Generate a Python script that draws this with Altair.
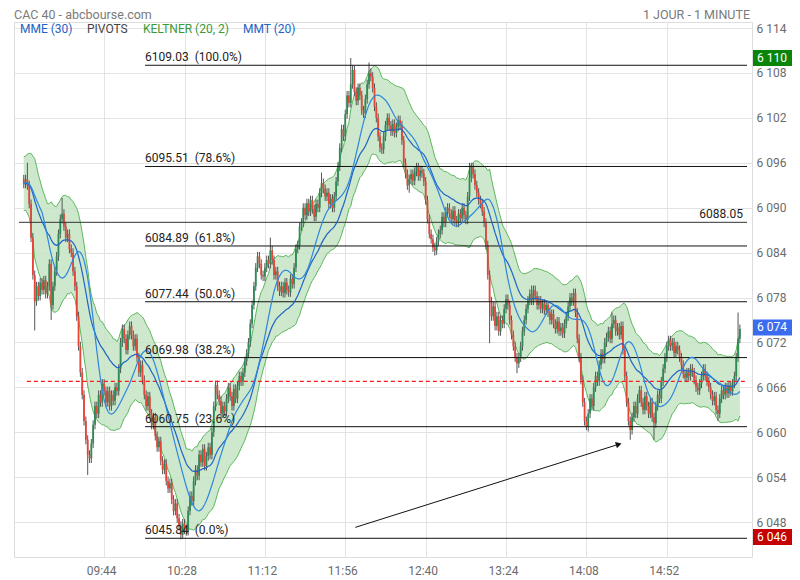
import math
import altair as alt
import pandas as pd
import numpy as np

# ---------------- data ----------------
START_OPEN = 6093.8
CLOSES = [
    # 09:00 - 10:05
    6093.2, 6093.8, 6093.0, 6090.5, 6086.0, 6081.0, 6077.5, 6079.5, 6078.2, 6080.0,
    6079.0, 6080.3, 6078.5, 6079.5, 6082.5, 6077.0, 6079.5, 6081.5, 6083.5, 6086.5,
    6088.5, 6089.2, 6087.5, 6086.0, 6086.5, 6084.5, 6084.0, 6081.5, 6079.5, 6075.5,
    6071.5, 6068.0, 6065.0, 6061.5, 6059.0, 6057.0, 6056.5, 6058.5, 6061.0, 6063.5,
    6062.5, 6065.0, 6064.0, 6066.5, 6065.5, 6064.0, 6065.5, 6063.5, 6065.0, 6064.2,
    6066.0, 6065.5, 6068.5, 6072.0, 6073.8, 6072.5, 6071.0, 6073.0, 6074.2, 6073.0,
    6071.5, 6072.5, 6070.0, 6068.0, 6069.0, 6067.0,
    # 10:06 - 10:50
    6065.0, 6063.5, 6064.8, 6062.5, 6061.0, 6062.0, 6059.5, 6058.0, 6058.8, 6056.2,
    6055.0, 6055.8, 6053.5, 6052.5, 6053.2, 6051.0, 6049.5, 6050.5, 6048.5, 6047.5,
    6046.3, 6047.8, 6047.0, 6046.8, 6049.5, 6051.5, 6050.8, 6053.5, 6055.0, 6054.2,
    6057.0, 6056.0, 6057.8, 6055.5, 6056.8, 6058.0, 6057.0, 6060.0, 6063.5, 6066.3,
    6065.0, 6064.2, 6062.5, 6063.5, 6062.8,
    # 10:51 - 11:50
    6064.5, 6066.0, 6064.8, 6063.5, 6065.8, 6064.5, 6066.2, 6067.5, 6066.8, 6068.0,
    6069.5, 6070.5, 6072.0, 6074.5, 6077.0, 6079.5, 6082.0, 6083.5, 6082.5, 6081.0,
    6080.8, 6082.0, 6083.0, 6082.5, 6084.3, 6083.0, 6081.0, 6081.5, 6079.5, 6078.8,
    6079.5, 6078.6, 6080.0, 6079.0, 6078.7, 6080.5, 6079.8, 6082.0, 6084.5, 6085.0,
    6087.5, 6088.0, 6090.0, 6089.0, 6090.6, 6089.5, 6091.0, 6089.8, 6088.8, 6090.5,
    6090.0, 6092.0, 6093.3, 6092.5, 6091.5, 6092.0, 6090.5, 6091.2, 6090.0, 6091.5,
    # 11:51 - 12:50
    6093.5, 6095.5, 6098.0, 6100.5, 6099.5, 6102.5, 6105.0, 6104.0, 6106.5, 6108.4,
    6105.5, 6104.3, 6106.0, 6105.0, 6103.0, 6102.6, 6104.5, 6106.5, 6108.0, 6107.5,
    6106.0, 6103.5, 6102.0, 6099.5, 6098.0, 6097.8, 6099.5, 6101.0, 6102.0, 6101.0,
    6100.2, 6101.2, 6100.0, 6100.8, 6101.7, 6101.0, 6099.0, 6096.0, 6094.5, 6093.0,
    6093.8, 6094.5, 6093.6, 6094.8, 6095.4, 6094.2, 6095.0, 6094.6, 6093.5, 6091.0,
    6088.5, 6086.5, 6085.8, 6084.7, 6084.3, 6085.5, 6086.5, 6087.0, 6088.8, 6088.0,
    # 12:51 - 13:50
    6089.5, 6090.0, 6089.2, 6088.5, 6089.6, 6088.3, 6088.0, 6089.2, 6088.6, 6090.0,
    6089.0, 6088.4, 6091.5, 6094.0, 6095.4, 6094.5, 6093.0, 6092.0, 6091.0, 6090.5,
    6089.5, 6088.0, 6085.0, 6081.0, 6077.5, 6075.5, 6076.8, 6074.2, 6075.5, 6073.5,
    6075.0, 6074.5, 6076.5, 6077.8, 6077.0, 6075.0, 6073.0, 6071.5, 6070.0, 6069.2,
    6070.0, 6071.5, 6073.5, 6075.0, 6076.5, 6077.6, 6078.5, 6077.6, 6079.0, 6078.2,
    6077.0, 6077.6, 6076.5, 6077.2, 6076.3, 6077.0, 6076.0, 6075.0, 6075.8, 6074.5,
    # 13:51 - 14:50
    6073.8, 6074.8, 6073.5, 6074.0, 6073.2, 6074.5, 6075.5, 6076.8, 6078.0, 6077.5,
    6078.6, 6076.0, 6072.5, 6070.0, 6067.0, 6064.0, 6061.5, 6060.7, 6062.5, 6064.5,
    6063.5, 6066.0, 6067.5, 6066.8, 6069.0, 6070.5, 6069.8, 6072.0, 6072.7, 6073.5,
    6072.5, 6074.5, 6075.0, 6073.5, 6074.0, 6073.0, 6074.2, 6071.0, 6067.5, 6064.0,
    6061.5, 6060.3, 6062.0, 6063.5, 6062.5, 6064.5, 6065.6, 6064.0, 6063.0, 6064.8,
    6063.5, 6062.5, 6064.0, 6062.0, 6061.2, 6063.5, 6065.0, 6064.5, 6066.8, 6068.5,
    # 14:51 - 15:32
    6070.0, 6071.5, 6072.3, 6071.5, 6072.0, 6070.6, 6071.5, 6071.0, 6070.0, 6069.0,
    6067.8, 6067.3, 6068.0, 6067.5, 6068.5, 6068.0, 6067.0, 6066.0, 6065.6, 6066.5,
    6067.5, 6068.5, 6067.5, 6066.8, 6066.0, 6065.0, 6064.2, 6064.8, 6063.0, 6062.5,
    6064.5, 6065.6, 6065.0, 6066.0, 6065.2, 6066.2, 6065.5, 6066.5, 6067.5, 6070.0,
    6072.5, 6073.8,
]
# notable wicks (minute index -> price)
HIGH_WICKS = {2: 6096.0, 21: 6091.3, 135: 6086.0, 163: 6094.7, 179: 6110.0,
              189: 6109.4, 244: 6096.0, 278: 6079.6, 322: 6076.0, 391: 6076.0}
LOW_WICKS = {6: 6073.6, 15: 6075.0, 35: 6054.3, 87: 6045.84, 211: 6092.0,
             225: 6083.6, 255: 6071.9, 270: 6067.9, 308: 6060.3, 332: 6059.0,
             345: 6059.0, 380: 6061.5}
SMALL_WICK = 0.6

TIME_TICKS = [44, 88, 132, 176, 220, 264, 308, 352]
TIME_LABELS = ["09:44", "10:28", "11:12", "11:56", "12:40", "13:24", "14:08", "14:52"]
PRICE_TICKS = [6048, 6054, 6060, 6066, 6072, 6078, 6084, 6090, 6096, 6102, 6108, 6114]

FIB_PRICES = [6109.03, 6095.51, 6084.89, 6077.44, 6069.98, 6060.75, 6045.84]
FIB_PCTS = ["100.0%", "78.6%", "61.8%", "50.0%", "38.2%", "23.6%", "0.0%"]
FIB_START = 66.4
LEVEL_PRICE = 6088.05
PIVOT_PRICE = 6066.8
PIVOT_START = 1.7

ARROW_T = [181.5, 325.7]
ARROW_P = [6047.3, 6058.4]

BADGE_PRICES = [6110, 6074, 6046]
BADGE_LABELS = ["6 110", "6 074", "6 046"]
BADGE_KIND = ["high", "last", "low"]

X_MIN, X_MAX = -2.6, 395.9
Y_MIN, Y_MAX = 6043.34, 6114.81
W, H = 738, 535

GREEN = "#2e8b57"
RED = "#e8453a"
BLUE1 = "#1f63c6"
BLUE2 = "#2f86dd"
KGREEN = "#5cb85c"

# ---------------- build tables ----------------
n = len(CLOSES)
df = pd.DataFrame({"t": np.arange(n), "close": CLOSES})
df["open"] = [START_OPEN] + CLOSES[:-1]
bh = df[["open", "close"]].max(axis=1)
bl = df[["open", "close"]].min(axis=1)
df["high"] = [HIGH_WICKS.get(i, bh[i] + SMALL_WICK) for i in range(n)]
df["low"] = [LOW_WICKS.get(i, bl[i] - SMALL_WICK) for i in range(n)]
df["dir"] = np.where(df["close"] >= df["open"], "up", "down")

df["ema30"] = df["close"].ewm(span=30, adjust=False).mean()
df["tma20"] = df["close"].rolling(10, min_periods=1).mean().rolling(11, min_periods=1).mean()
prev = df["close"].shift(1).fillna(START_OPEN)
tr = pd.concat([df["high"] - df["low"], (df["high"] - prev).abs(), (df["low"] - prev).abs()], axis=1).max(axis=1)
atr = tr.ewm(span=20, adjust=False).mean()
mid = df["close"].ewm(span=20, adjust=False).mean()
df["kc_up"] = mid + 2 * atr
df["kc_lo"] = mid - 2 * atr

fib = pd.DataFrame({
    "price": FIB_PRICES,
    "label": [f"{p:.2f}\u00a0 ({q})" for p, q in zip(FIB_PRICES, FIB_PCTS)],
    "t0": FIB_START, "t1": X_MAX,
})
level = pd.DataFrame({"price": [LEVEL_PRICE], "label": [f"{LEVEL_PRICE:.2f}"], "t0": [X_MIN], "t1": [X_MAX]})
pivot = pd.DataFrame({"price": [PIVOT_PRICE], "t0": [PIVOT_START], "t1": [X_MAX]})
arrow = pd.DataFrame({"t0": [ARROW_T[0]], "t1": [ARROW_T[1]], "p0": [ARROW_P[0]], "p1": [ARROW_P[1]]})
px_x = W / (X_MAX - X_MIN)
px_y = H / (Y_MAX - Y_MIN)
ang = math.degrees(math.atan2((ARROW_P[1] - ARROW_P[0]) * px_y, (ARROW_T[1] - ARROW_T[0]) * px_x))
arrow_head = pd.DataFrame({"t": [ARROW_T[1]], "p": [ARROW_P[1]]})
badges = pd.DataFrame({"price": BADGE_PRICES, "label": BADGE_LABELS, "kind": BADGE_KIND})

# ---------------- chart ----------------
xs = alt.Scale(domain=[X_MIN, X_MAX], nice=False, zero=False)
ys = alt.Scale(domain=[Y_MIN, Y_MAX], nice=False, zero=False)

expr = "''"
for v, lab in reversed(list(zip(TIME_TICKS, TIME_LABELS))):
    expr = f"datum.value == {v} ? '{lab}' : ({expr})"

x_axis = alt.Axis(values=TIME_TICKS, labelExpr=expr, title=None, grid=True, gridColor="#e3e3e3",
                  ticks=False, domain=False, labelColor="#6b6b6b", labelFont="Roboto",
                  labelFontSize=12, labelPadding=8, labelOffset=-3)
y_axis = alt.Axis(orient="right", values=PRICE_TICKS, title=None, grid=True, gridColor="#e3e3e3",
                  labelExpr="replace(format(datum.value, ',d'), ',', ' ')", ticks=False, domain=False,
                  labelColor="#6b6b6b", labelFont="Roboto", labelFontSize=12, labelPadding=4)


def X(field):
    return alt.X(field, scale=xs, axis=x_axis)


def Y(field):
    return alt.Y(field, scale=ys, axis=y_axis)


base = alt.Chart(df)
band = base.mark_area(color="#c4e4c4", opacity=0.85).encode(x=X("t:Q"), y=Y("kc_lo:Q"), y2="kc_up:Q")
band_up = base.mark_line(color=KGREEN, strokeWidth=1).encode(x=X("t:Q"), y=Y("kc_up:Q"))
band_lo = base.mark_line(color=KGREEN, strokeWidth=1).encode(x=X("t:Q"), y=Y("kc_lo:Q"))

wicks = base.mark_rule(color="#555555", strokeWidth=1).encode(x=X("t:Q"), y=Y("low:Q"), y2="high:Q")
bodies = base.mark_bar(width=1.8).encode(
    x=X("t:Q"), y=Y("open:Q"), y2="close:Q",
    color=alt.Color("dir:N", scale=alt.Scale(domain=["up", "down"], range=[GREEN, RED]), legend=None),
)
ema = base.mark_line(color=BLUE1, strokeWidth=1.2).encode(x=X("t:Q"), y=Y("ema30:Q"))
tma = base.mark_line(color=BLUE2, strokeWidth=1.2).encode(x=X("t:Q"), y=Y("tma20:Q"))

pivot_line = alt.Chart(pivot).mark_rule(color="#ff1a1a", strokeWidth=1.2, strokeDash=[4, 3]).encode(
    x=X("t0:Q"), x2="t1:Q", y=Y("price:Q"))
fib_lines = alt.Chart(fib).mark_rule(color="#111111", strokeWidth=1).encode(
    x=X("t0:Q"), x2="t1:Q", y=Y("price:Q"))
fib_text = alt.Chart(fib).mark_text(align="left", baseline="bottom", dy=-1, font="Roboto",
                                    fontSize=12, color="#222222").encode(
    x=X("t0:Q"), y=Y("price:Q"), text="label:N")
level_line = alt.Chart(level).mark_rule(color="#333333", strokeWidth=1).encode(
    x=X("t0:Q"), x2="t1:Q", y=Y("price:Q"))
level_text = alt.Chart(level).mark_text(align="right", baseline="bottom", dy=-1, dx=-4, font="Roboto",
                                        fontSize=12, color="#222222").encode(
    x=X("t1:Q"), y=Y("price:Q"), text="label:N")

arrow_line = alt.Chart(arrow).mark_rule(color="#111111", strokeWidth=1).encode(
    x=X("t0:Q"), x2="t1:Q", y=Y("p0:Q"), y2="p1:Q")
arrow_tip = alt.Chart(arrow_head).mark_point(shape="triangle-right", filled=True, size=45,
                                             angle=(360 - ang) % 360, color="#111111", opacity=1).encode(
    x=X("t:Q"), y=Y("p:Q"))

badge_box = alt.Chart(badges).mark_tick(orient="horizontal", size=48, thickness=16, opacity=1).encode(
    x=alt.value(W + 25), y=Y("price:Q"),
    color=alt.Color("kind:N", scale=alt.Scale(domain=["high", "last", "low"],
                                              range=["#0a850a", "#3b6cf0", "#c40000"]), legend=None))
badge_text = alt.Chart(badges).mark_text(align="left", baseline="middle", font="Roboto", fontSize=12,
                                         color="white").encode(
    x=alt.value(W + 5), y=Y("price:Q"), text="label:N")


def label(text, x, y, color, align="left", size=12):
    return alt.Chart(pd.DataFrame({"s": [text]})).mark_text(
        align=align, baseline="middle", font="Roboto", fontSize=size, color=color).encode(
        x=alt.value(x), y=alt.value(y), text="s:N")


headers = [
    label("CAC 40 - abcbourse.com", 0, -7, "#7a7a7a", size=12.5),
    label("1 JOUR - 1 MINUTE", 736, -7, "#7a7a7a", align="right", size=12.5),
    label("MME (30)", 6, 7, BLUE1),
    label("PIVOTS", 73, 7, "#444444"),
    label("KELTNER (20, 2)", 129, 7, "#3a9a3a"),
    label("MMT (20)", 229, 7, BLUE1),
]

chart = alt.layer(
    band, band_up, band_lo, wicks, bodies, pivot_line, fib_lines, level_line, ema, tma,
    fib_text, level_text, arrow_line, arrow_tip, badge_box, badge_text, *headers
).resolve_scale(color="independent").properties(
    width=W, height=H,
    autosize=alt.AutoSizeParams(type="none"),
    padding={"left": 6, "top": 14, "right": 40, "bottom": 23},
).configure_view(stroke="#d8d8d8", strokeWidth=1).configure(background="white")

chart.save("out.html", embed_options={"renderer": "svg", "actions": False})
